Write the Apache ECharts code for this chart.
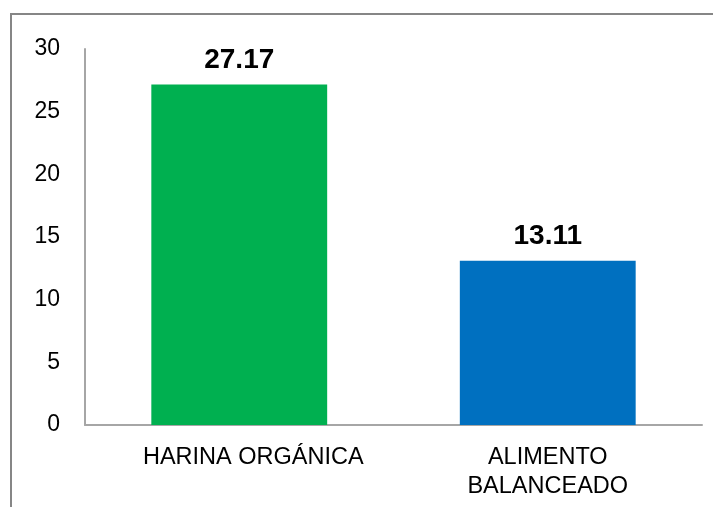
<!DOCTYPE html>
<html>
<head>
<meta charset="utf-8">
<script src="https://cdn.jsdelivr.net/npm/echarts@6/dist/echarts.min.js"></script>
<style>
  html, body { margin: 0; padding: 0; background: #ffffff; }
  #chart { width: 713px; height: 507px; }
</style>
</head>
<body>
<div id="chart"></div>
<script>
// Categories and values
const categories = ['HARINA ORGÁNICA', 'ALIMENTO\nBALANCEADO'];
const values = [27.17, 13.11];
const barColors = ['#00B050', '#0070C0'];
const yTicks = { min: 0, max: 30, interval: 5 };

const chart = echarts.init(document.getElementById('chart'), null, { renderer: 'canvas' });

const font = '"Liberation Sans", Arial, sans-serif';

chart.setOption({
  animation: false,
  backgroundColor: '#ffffff',
  grid: { left: 85, right: 11, top: 49, bottom: 82, containLabel: false },
  graphic: [
    {
      type: 'rect',
      shape: { x: 11, y: 14, width: 800, height: 600 },
      style: { fill: 'none', stroke: '#868686', lineWidth: 2 },
      silent: true
    }
  ],
  xAxis: {
    type: 'category',
    data: categories,
    axisLine: { show: true, lineStyle: { color: '#a6a6a6', width: 2 } },
    axisTick: { show: false },
    axisLabel: {
      color: '#000000',
      fontFamily: font,
      fontSize: 23.5,
      lineHeight: 29,
      margin: 18,
      interval: 0,
      // the single-line label sits slightly right of its bar
      formatter: (v, i) => i === 0 ? '{shift|' + v + '}' : v,
      rich: {
        shift: {
          color: '#000000',
          fontFamily: font,
          fontSize: 23.5,
          lineHeight: 29,
          padding: [0, 0, 0, 28]
        }
      }
    }
  },
  yAxis: {
    type: 'value',
    min: yTicks.min,
    max: yTicks.max,
    interval: yTicks.interval,
    axisLine: { show: true, lineStyle: { color: '#a6a6a6', width: 2 } },
    axisTick: { show: false },
    splitLine: { show: false },
    axisLabel: {
      color: '#000000',
      fontFamily: font,
      fontSize: 23,
      margin: 25
    }
  },
  series: [
    {
      type: 'bar',
      barWidth: '57%',
      data: values.map((v, i) => ({ value: v, itemStyle: { color: barColors[i] } })),
      label: {
        show: true,
        position: 'top',
        distance: 10,
        color: '#000000',
        fontFamily: font,
        fontWeight: 'bold',
        fontSize: 28,
        formatter: p => p.value.toFixed(2)
      }
    }
  ]
});
</script>
</body>
</html>
